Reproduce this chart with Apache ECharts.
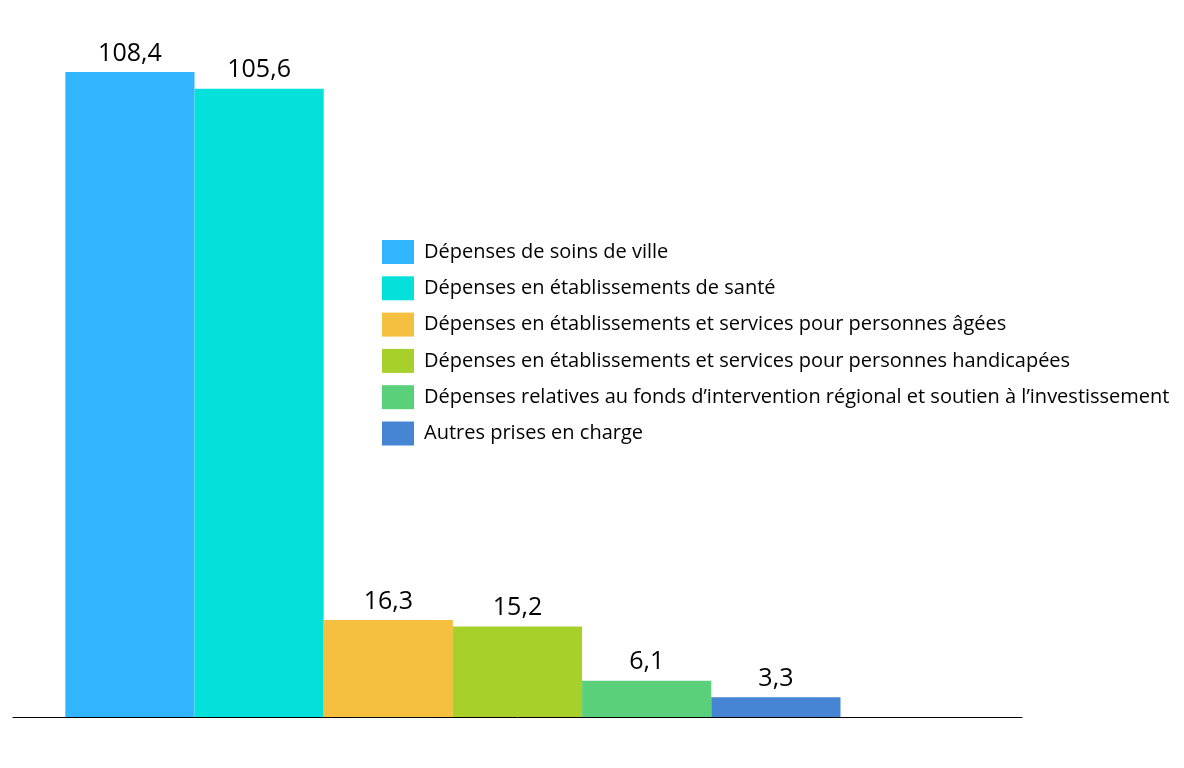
<!DOCTYPE html>
<html>
<head>
<meta charset="utf-8">
<script src="https://cdn.jsdelivr.net/npm/echarts@6/dist/echarts.min.js"></script>
<style>html,body{margin:0;padding:0;background:#fff;}#chart{width:1184px;height:768px;}</style>
</head>
<body>
<div id="chart"></div>
<script>
const categories = [''];
const seriesNames = [
  'Dépenses de soins de ville',
  'Dépenses en établissements de santé',
  'Dépenses en établissements et services pour personnes âgées',
  'Dépenses en établissements et services pour personnes handicapées',
  'Dépenses relatives au fonds d\u2019intervention régional et soutien à l\u2019investissement',
  'Autres prises en charge'
];
const seriesValues = [108.4, 105.6, 16.3, 15.2, 6.1, 3.3];
const colors = ['#31B5FF', '#05E1DA', '#F5BF40', '#A7D12A', '#5BD07A', '#4585D4'];

const fontFamily = '"Open Sans", Lato, sans-serif';
const series = seriesNames.map((name, i) => ({
  name: name,
  type: 'bar',
  data: [seriesValues[i]],
  itemStyle: { color: colors[i] },
  barGap: '0%',
  barCategoryGap: '10.37%',
  label: {
    show: true,
    position: 'top',
    distance: 6,
    color: '#000',
    fontSize: 25,
    fontFamily: fontFamily,
    formatter: p => String(p.value).replace('.', ',')
  }
}));
// empty placeholder slot (as in the original layout)
series.push({ name: '_spacer', type: 'bar', data: ['-'], barGap: '0%', barCategoryGap: '10.37%', silent: true });

const chart = echarts.init(document.getElementById('chart'));
chart.setOption({
  animation: false,
  backgroundColor: '#fff',
  grid: { left: 13, right: 162, top: 62.5, bottom: 51, containLabel: false },
  legend: {
    data: seriesNames,
    orient: 'vertical',
    left: 382,
    top: 240,
    padding: 0,
    itemWidth: 32,
    itemHeight: 24,
    itemGap: 12.3,
    icon: 'rect',
    selectedMode: false,
    textStyle: { fontSize: 20, color: '#000', fontFamily: fontFamily, padding: [0, 0, 0, 5] }
  },
  xAxis: {
    type: 'category',
    data: categories,
    axisLine: { show: true, lineStyle: { color: '#000', width: 1 } },
    axisTick: { show: false },
    axisLabel: { show: false }
  },
  yAxis: {
    type: 'value',
    min: 0,
    max: 110,
    show: false,
    splitLine: { show: false }
  },
  series: series
});
</script>
</body>
</html>
